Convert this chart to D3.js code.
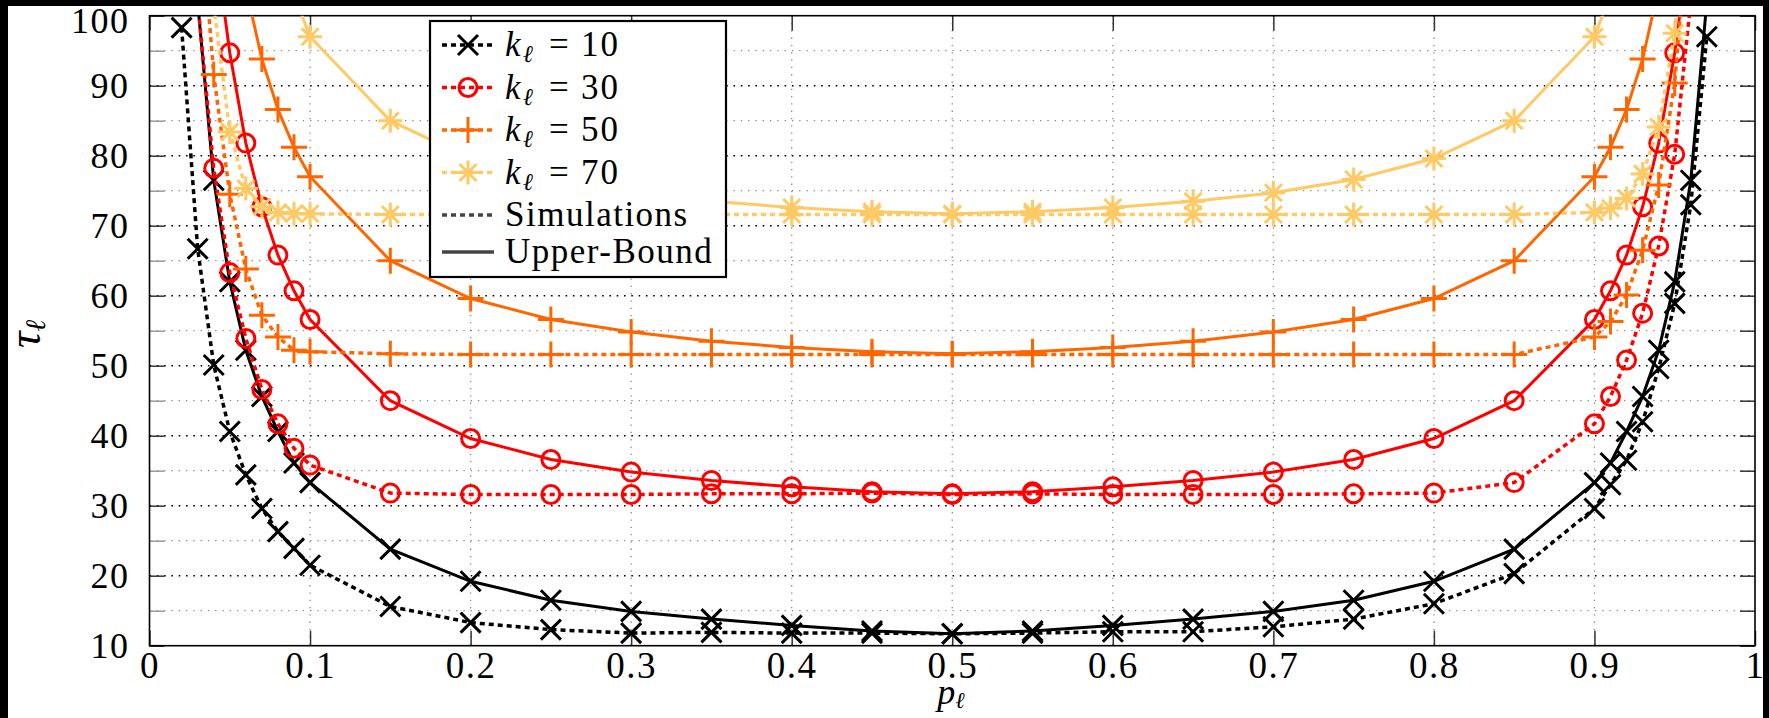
<!DOCTYPE html>
<html>
<head>
<meta charset="utf-8">
<script src="https://cdn.jsdelivr.net/npm/d3@7"></script>
<style>
  body { margin: 0; background: #000; }
  svg { display: block; }
</style>
</head>
<body>
<div id="chart"></div>
<script>
// p values where the curves were evaluated
const pValues = [0.02, 0.03, 0.04, 0.05, 0.06, 0.07, 0.08, 0.09, 0.1, 0.15, 0.2, 0.25, 0.3, 0.35, 0.4, 0.45, 0.5,
  0.55, 0.6, 0.65, 0.7, 0.75, 0.8, 0.85, 0.9, 0.91, 0.92, 0.93, 0.94, 0.95, 0.96, 0.97, 0.98];

// simulations (dotted) and upper bounds (solid), null = no point
const simK10 = [98.3, 66.7, 50.1, 40.6, 34.4, 29.6, 26.3, 23.9, 21.5, 15.6, 13.3, 12.3, 11.8, 11.9, 11.8, 11.8, 11.7,
  11.8, 12.0, 12.0, 12.7, 13.8, 16.0, 20.3, 29.6, 33.0, 36.5, 42.0, 49.6, 58.9, 73.0, 97.0, null];
const boundK10 = [null, 102, 76.5, 62.0, 52.2, 45.6, 40.6, 36.1, 33.3, 23.8, 19.2, 16.5, 14.9, 13.8, 12.9, 12.1, 11.7,
  12.1, 12.9, 13.8, 14.9, 16.5, 19.2, 23.8, 33.3, 36.1, 40.6, 45.6, 52.2, 62.0, 76.5, 102, null];

const simK30 = [null, 102, 78.2, 63.3, 53.9, 46.6, 41.7, 38.2, 35.8, 31.8, 31.6, 31.6, 31.6, 31.7, 31.7, 31.8, 31.6,
  31.7, 31.6, 31.6, 31.6, 31.7, 31.8, 33.3, 41.7, 45.6, 50.8, 57.5, 67.1, 80.2, 102, null, null];
const boundK30 = [null, null, 112, 94.7, 81.8, 72.7, 65.8, 60.7, 56.6, 45.0, 39.6, 36.6, 34.8, 33.6, 32.7, 32.0, 31.7,
  32.0, 32.7, 33.6, 34.8, 36.6, 39.6, 45.0, 56.6, 60.7, 65.8, 72.7, 81.8, 94.7, 112, null, null];

const simK50 = [null, 120, 91.6, 74.5, 63.8, 57.2, 54.1, 52.2, 52.0, 51.7, 51.6, 51.6, 51.6, 51.6, 51.6, 51.6, 51.6,
  51.6, 51.6, 51.6, 51.6, 51.6, 51.6, 51.6, 54.1, 56.3, 60.1, 66.5, 75.8, 90.4, 118, null, null];
const boundK50 = [null, null, null, null, 104, 93.8, 86.6, 81.2, 77.0, 65.0, 59.6, 56.6, 54.8, 53.5, 52.6, 52.0, 51.7,
  52.0, 52.6, 53.5, 54.8, 56.6, 59.6, 65.0, 77.0, 81.2, 86.6, 93.8, 104, null, null, null, null];

const simK70 = [null, null, 101.5, 83.4, 75.3, 72.7, 71.9, 71.7, 71.7, 71.6, 71.6, 71.6, 71.6, 71.6, 71.6, 71.6, 71.6,
  71.6, 71.6, 71.6, 71.6, 71.6, 71.6, 71.6, 71.9, 72.5, 73.9, 77.4, 84.1, 97.5, 125, null, null];
const boundK70 = [null, null, null, null, null, null, null, 103, 97.0, 85.0, 79.6, 76.6, 74.7, 73.5, 72.6, 72.0, 71.7,
  72.0, 72.6, 73.5, 74.7, 76.6, 79.6, 85.0, 97.0, 103, null, null, null, null, null, null, null];

const kLabels = ["10", "30", "50", "70"];
const xTicks = [0, 0.1, 0.2, 0.3, 0.4, 0.5, 0.6, 0.7, 0.8, 0.9, 1];
const yTicks = [10, 20, 30, 40, 50, 60, 70, 80, 90, 100];
const yMinorTicks = [15, 25, 35, 45, 55, 65, 75, 85, 95];

const width = 1769, height = 718;
const plot = { left: 149.5, right: 1755, top: 15.7, bottom: 645.7 };
const serif = "'Liberation Serif', 'Times New Roman', Times, 'DejaVu Serif', serif";

const svg = d3.select("#chart")
  .append("svg")
  .attr("width", width)
  .attr("height", height)
  .style("font-family", serif);

// black frame round a white page
svg.append("rect")
  .attr("width", width)
  .attr("height", height)
  .attr("fill", "#000");
svg.append("rect")
  .attr("x", 8)
  .attr("y", 6)
  .attr("width", 1755)
  .attr("height", 712)
  .attr("fill", "#fff");

const x = d3.scaleLinear().domain([0, 1]).range([plot.left, plot.right]);
const y = d3.scaleLinear().domain([10, 100]).range([plot.bottom, plot.top]);

// grid
svg.append("g")
  .selectAll("line")
  .data(yMinorTicks)
  .join("line")
  .attr("x1", plot.left)
  .attr("x2", plot.right)
  .attr("y1", d => y(d))
  .attr("y2", d => y(d))
  .attr("stroke", "#888")
  .attr("stroke-width", 1.3)
  .attr("stroke-dasharray", "1.3,6");

svg.append("g")
  .selectAll("line")
  .data(yTicks.slice(1, -1))
  .join("line")
  .attr("x1", plot.left)
  .attr("x2", plot.right)
  .attr("y1", d => y(d))
  .attr("y2", d => y(d))
  .attr("stroke", "#000")
  .attr("stroke-width", 1.6)
  .attr("stroke-dasharray", "1.6,5.7");

svg.append("g")
  .selectAll("line")
  .data(xTicks.slice(1, -1))
  .join("line")
  .attr("x1", d => x(d))
  .attr("x2", d => x(d))
  .attr("y1", plot.top)
  .attr("y2", plot.bottom)
  .attr("stroke", "#888")
  .attr("stroke-width", 1.3)
  .attr("stroke-dasharray", "1.3,6");

// axes
const fmt = d => (d === 0 || d === 1) ? String(d) : d.toFixed(1);

function styleAxis(g, size) {
  g.attr("font-size", size).attr("font-family", null);
  g.select(".domain").remove();
  g.selectAll(".tick line").attr("stroke", "#333").attr("stroke-width", 1.5);
  g.selectAll("text")
    .attr("fill", "#000")
    .attr("letter-spacing", 1.5)
    .style("font-family", serif);
}

svg.append("g")
  .attr("transform", `translate(0,${plot.bottom})`)
  .call(d3.axisBottom(x).tickValues(xTicks).tickSize(-15).tickPadding(6).tickFormat(fmt))
  .call(g => styleAxis(g, 37));

svg.append("g")
  .attr("transform", `translate(0,${plot.top})`)
  .call(d3.axisTop(x).tickValues(xTicks).tickSize(-15).tickFormat(""))
  .call(g => styleAxis(g, 37));

svg.append("g")
  .attr("transform", `translate(${plot.left},0)`)
  .call(d3.axisLeft(y).tickValues(yTicks).tickSize(-15).tickPadding(20).tickFormat(d3.format("d")))
  .call(g => styleAxis(g, 36))
  .selectAll("text")
  .attr("dy", d => d === 100 ? "0.47em" : "0.34em");

svg.append("g")
  .attr("transform", `translate(${plot.left},0)`)
  .call(d3.axisLeft(y).tickValues(yMinorTicks).tickSize(-15).tickFormat(""))
  .call(g => styleAxis(g, 36))
  .selectAll(".tick line").attr("stroke", "#999");

svg.append("g")
  .attr("transform", `translate(${plot.right},0)`)
  .call(d3.axisRight(y).tickValues(yTicks.concat(yMinorTicks)).tickSize(-15).tickFormat(""))
  .call(g => styleAxis(g, 36));

svg.append("rect")
  .attr("x", plot.left)
  .attr("y", plot.top)
  .attr("width", plot.right - plot.left)
  .attr("height", plot.bottom - plot.top)
  .attr("fill", "none")
  .attr("stroke", "#000")
  .attr("stroke-width", 1.6);

// axis titles
const yTitle = svg.append("text")
  .attr("transform", "translate(40,334) rotate(-90)")
  .attr("text-anchor", "middle")
  .attr("font-size", 46)
  .attr("font-style", "italic");
yTitle.append("tspan").text("τ");
yTitle.append("tspan").attr("font-size", 28).attr("dy", 5).text("ℓ");

const xTitle = svg.append("text")
  .attr("x", 951)
  .attr("y", 704)
  .attr("text-anchor", "middle")
  .attr("font-size", 36)
  .attr("font-style", "italic");
xTitle.append("tspan").text("p");
xTitle.append("tspan").attr("font-size", 23).attr("dy", 4).text("ℓ");

// markers
const markers = {
  cross: "M-10,-10L10,10M-10,10L10,-10",
  circle: "M9,0A9,9 0 1,1 -9,0A9,9 0 1,1 9,0",
  plus: "M-13,0L13,0M0,-13L0,13",
  star: "M-12,0L12,0M0,-12L0,12M-8.5,-8.5L8.5,8.5M-8.5,8.5L8.5,-8.5"
};

const series = [
  { sim: simK10, bound: boundK10, color: "#000000", marker: "cross" },
  { sim: simK30, bound: boundK30, color: "#ff0000", marker: "circle" },
  { sim: simK50, bound: boundK50, color: "#ff6600", marker: "plus" },
  { sim: simK70, bound: boundK70, color: "#ffc966", marker: "star" }
];

svg.append("clipPath")
  .attr("id", "plot-clip")
  .append("rect")
  .attr("x", plot.left)
  .attr("y", plot.top)
  .attr("width", plot.right - plot.left)
  .attr("height", plot.bottom - plot.top);

const line = d3.line()
  .defined(d => d.v !== null)
  .x(d => x(d.p))
  .y(d => y(d.v));

const curves = svg.append("g");

function drawCurve(values, s, dashed) {
  const pts = pValues.map((p, i) => ({ p: p, v: values[i] }));
  curves.append("path")
    .datum(pts)
    .attr("clip-path", "url(#plot-clip)")
    .attr("fill", "none")
    .attr("stroke", s.color)
    .attr("stroke-width", dashed ? 3.5 : 3)
    .attr("stroke-dasharray", dashed ? "5,4" : null)
    .attr("d", line);

  curves.append("g")
    .selectAll("path")
    .data(pts.filter(d => d.v !== null && d.v <= 100 && d.v >= 10))
    .join("path")
    .attr("transform", d => `translate(${x(d.p)},${y(d.v)})`)
    .attr("d", markers[s.marker])
    .attr("fill", "none")
    .attr("stroke", s.color)
    .attr("stroke-width", 3);
}

series.forEach(s => {
  drawCurve(s.sim, s, true);
  drawCurve(s.bound, s, false);
});

// legend
const legend = svg.append("g");
legend.append("rect")
  .attr("x", 430)
  .attr("y", 21)
  .attr("width", 296)
  .attr("height", 256)
  .attr("fill", "#fff")
  .attr("stroke", "#000")
  .attr("stroke-width", 2.2);

const rowY = [45, 87.5, 130, 172.5, 215, 252];

series.forEach((s, i) => {
  const ry = rowY[i];
  legend.append("line")
    .attr("x1", 442).attr("x2", 494)
    .attr("y1", ry).attr("y2", ry)
    .attr("stroke", s.color)
    .attr("stroke-width", 3.5)
    .attr("stroke-dasharray", "5,4");
  legend.append("path")
    .attr("transform", `translate(468,${ry})`)
    .attr("d", markers[s.marker])
    .attr("fill", "none")
    .attr("stroke", s.color)
    .attr("stroke-width", 3);
  const t = legend.append("text")
    .attr("y", ry + 11)
    .attr("font-size", 35);
  t.append("tspan").attr("x", 505).attr("font-style", "italic").text("k");
  t.append("tspan").attr("x", 523).attr("dy", 6).attr("font-size", 24).attr("font-style", "italic").text("ℓ");
  t.append("tspan").attr("x", 549).attr("dy", -6).text("=");
  t.append("tspan").attr("x", 581).attr("letter-spacing", 2).text(kLabels[i]);
});

legend.append("line")
  .attr("x1", 442).attr("x2", 494)
  .attr("y1", rowY[4]).attr("y2", rowY[4])
  .attr("stroke", "#444")
  .attr("stroke-width", 3.5)
  .attr("stroke-dasharray", "5,4");
legend.append("text")
  .attr("x", 505)
  .attr("y", rowY[4] + 11)
  .attr("font-size", 35)
  .attr("letter-spacing", 1.5)
  .text("Simulations");

legend.append("line")
  .attr("x1", 442).attr("x2", 494)
  .attr("y1", rowY[5]).attr("y2", rowY[5])
  .attr("stroke", "#444")
  .attr("stroke-width", 3.5);
legend.append("text")
  .attr("x", 505)
  .attr("y", rowY[5] + 11)
  .attr("font-size", 35)
  .attr("letter-spacing", 1.5)
  .text("Upper-Bound");

// right black band drawn over the last tick label like in the original
svg.append("rect")
  .attr("x", 1763)
  .attr("width", width - 1763)
  .attr("height", height)
  .attr("fill", "#000");
</script>
</body>
</html>
